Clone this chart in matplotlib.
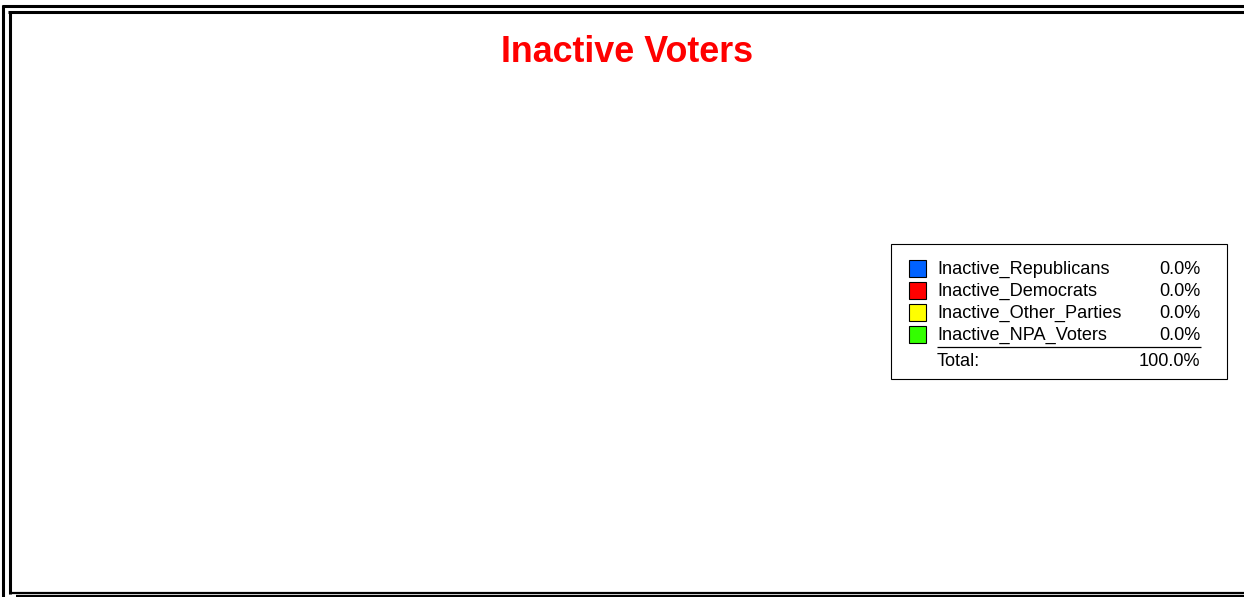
import matplotlib
matplotlib.use("Agg")
import matplotlib.pyplot as plt
from matplotlib.patches import Rectangle
from matplotlib.lines import Line2D

categories = ["Inactive_Republicans", "Inactive_Democrats", "Inactive_Other_Parties", "Inactive_NPA_Voters"]
values = [0, 0, 0, 0]
colors = ["#0062ff", "#ff0000", "#ffff00", "#33ff00"]
total_label = "100.0%"
title = "Inactive Voters"

plt.rcParams['font.family'] = ['Liberation Sans', 'DejaVu Sans']

W, H = 1244, 597
fig = plt.figure(figsize=(W / 100, H / 100), dpi=100)
ax = fig.add_axes([0, 0, 1, 1])
ax.set_xlim(0, W)
ax.set_ylim(H, 0)
ax.axis('off')

# frame lines
def hline(x0, x1, y, lw):
    ax.add_line(Line2D([x0, x1], [y, y], color='black', lw=lw, solid_capstyle='butt'))
def vline(x, y0, y1, lw):
    ax.add_line(Line2D([x, x], [y0, y1], color='black', lw=lw, solid_capstyle='butt'))

# outer
hline(2, W, 6, 2.2)
vline(3, 5, H, 2.2)
# inner
hline(8, W, 12, 2.2)
vline(9.5, 11, 594, 2.2)
hline(8.5, W, 592.5, 1.6)
hline(16, W, 595.5, 1.6)

# title
ax.text(627, 52, title, color='#ff0000', fontsize=25.8, fontweight='bold',
        ha='center', va='center')

# total (pie is empty since all values are zero)
tot = sum(values)
shares = [(v / tot * 100 if tot else 0.0) for v in values]

# legend box
ax.add_patch(Rectangle((890.5, 243.5), 336, 135, fill=False, edgecolor='black', lw=0.8))
row_y = [268, 290, 312, 334]
fs = 13.1
for i, (cat, col, sh) in enumerate(zip(categories, colors, shares)):
    y = row_y[i]
    ax.add_patch(Rectangle((909, y - 8.5), 17, 17, facecolor=col, edgecolor='black', lw=0.8))
    ax.text(937, y + 1, cat, fontsize=fs, ha='left', va='center')
    ax.text(1200, y + 1, f"{sh:.1f}%", fontsize=fs, ha='right', va='center')
hline(937, 1201, 346.5, 0.9)
ax.text(937, 361, "Total:", fontsize=fs, ha='left', va='center')
ax.text(1200, 361, total_label, fontsize=fs, ha='right', va='center')

fig.savefig("out.png", dpi=100)
